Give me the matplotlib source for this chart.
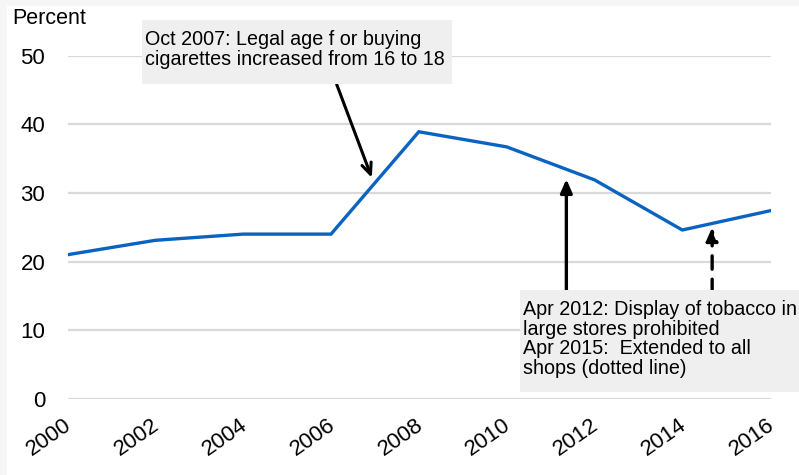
import matplotlib
matplotlib.use("Agg")
import matplotlib.pyplot as plt
import matplotlib.transforms as mtransforms
from matplotlib.patches import Rectangle

plt.rcParams['font.family'] = ['Liberation Sans', 'DejaVu Sans']

years = [2000, 2002, 2004, 2006, 2008, 2010, 2012, 2014, 2016]
percent = [21.0, 23.1, 24.0, 24.0, 38.9, 36.7, 31.9, 24.6, 27.4]
yticks = [0, 10, 20, 30, 40, 50]
xticks = [2000, 2002, 2004, 2006, 2008, 2010, 2012, 2014, 2016]

note1 = "Oct 2007: Legal age f or buying\ncigarettes increased from 16 to 18"
note2 = ("Apr 2012: Display of tobacco in\nlarge stores prohibited\n"
         "Apr 2015:  Extended to all\nshops (dotted line)")

fig = plt.figure(figsize=(7.99, 4.75), dpi=100)

# faint page border strips
fig.patches.append(Rectangle((0, 0), 7/799, 1, transform=fig.transFigure,
                             facecolor='#f6f6f6', edgecolor='none', zorder=0))
fig.patches.append(Rectangle((0, 1-5.5/475), 1, 5.5/475, transform=fig.transFigure,
                             facecolor='#f6f6f6', edgecolor='none', zorder=0))

ax = fig.add_axes([67.5/799, 1-399/475, (771-67.5)/799, (399-55.5)/475])
ax.set_xlim(2000, 2016.02)
ax.set_ylim(0, 50)
ax.patch.set_alpha(0)

ax.plot(years, percent, color='#0a63c0', lw=2.4, solid_joinstyle='miter', zorder=3)

ax.set_yticks(yticks)
ax.set_xticks(xticks)
ax.set_xticklabels([str(x) for x in xticks], rotation=35, ha='right', va='top',
                   rotation_mode='anchor', fontsize=16)
ax.tick_params(axis='y', length=0, pad=16, labelsize=16)
ax.tick_params(axis='x', length=0, pad=11)
offset = mtransforms.ScaledTranslation(-4/100, 0, fig.dpi_scale_trans)
for lab in ax.get_xticklabels():
    lab.set_transform(lab.get_transform() + offset)
ax.grid(axis='y', color='#d9d9d9', lw=1.6)
ax.set_axisbelow(True)
for s in ax.spines.values():
    s.set_visible(False)

fig.text(12/799, 1-8/475, "Percent", fontsize=15.5, ha='left', va='top')

# Arrow 1 (Oct 2007)
ax.annotate("", xy=(2006.93, 32.2), xytext=(2006.13, 45.8),
            arrowprops=dict(arrowstyle='->,head_length=0.8,head_width=0.35',
                            color='black', lw=2.2, shrinkA=0, shrinkB=0),
            zorder=4, annotation_clip=False)
# Arrow 2 (Apr 2012)
ax.annotate("", xy=(2011.36, 32.0), xytext=(2011.36, 15.5),
            arrowprops=dict(arrowstyle='-|>,head_length=0.8,head_width=0.35',
                            color='black', lw=2.4, shrinkA=0, shrinkB=0),
            zorder=4, annotation_clip=False)
# Arrow 3 (Apr 2015, dashed)
ax.annotate("", xy=(2014.68, 25.0), xytext=(2014.68, 15.5),
            arrowprops=dict(arrowstyle='-|>,head_length=0.8,head_width=0.35',
                            color='black', lw=2.4, linestyle=(0, (4, 3)),
                            shrinkA=0, shrinkB=0),
            zorder=4, annotation_clip=False)

# Boxes
fig.patches.append(Rectangle((142/799, 1-84/475), (452-142)/799, 64/475,
                             transform=fig.transFigure, facecolor='#efefef',
                             edgecolor='none', zorder=5))
fig.text(145/799, 1-30/475, note1, fontsize=14.2, ha='left', va='top', zorder=6,
         linespacing=1.05)
fig.patches.append(Rectangle((520/799, 1-392/475), (799-520)/799, 102/475,
                             transform=fig.transFigure, facecolor='#efefef',
                             edgecolor='none', zorder=5))
fig.text(523/799, 1-300/475, note2, fontsize=14.2, ha='left', va='top', zorder=6,
         linespacing=1.05)

fig.savefig("out.png", dpi=100)
